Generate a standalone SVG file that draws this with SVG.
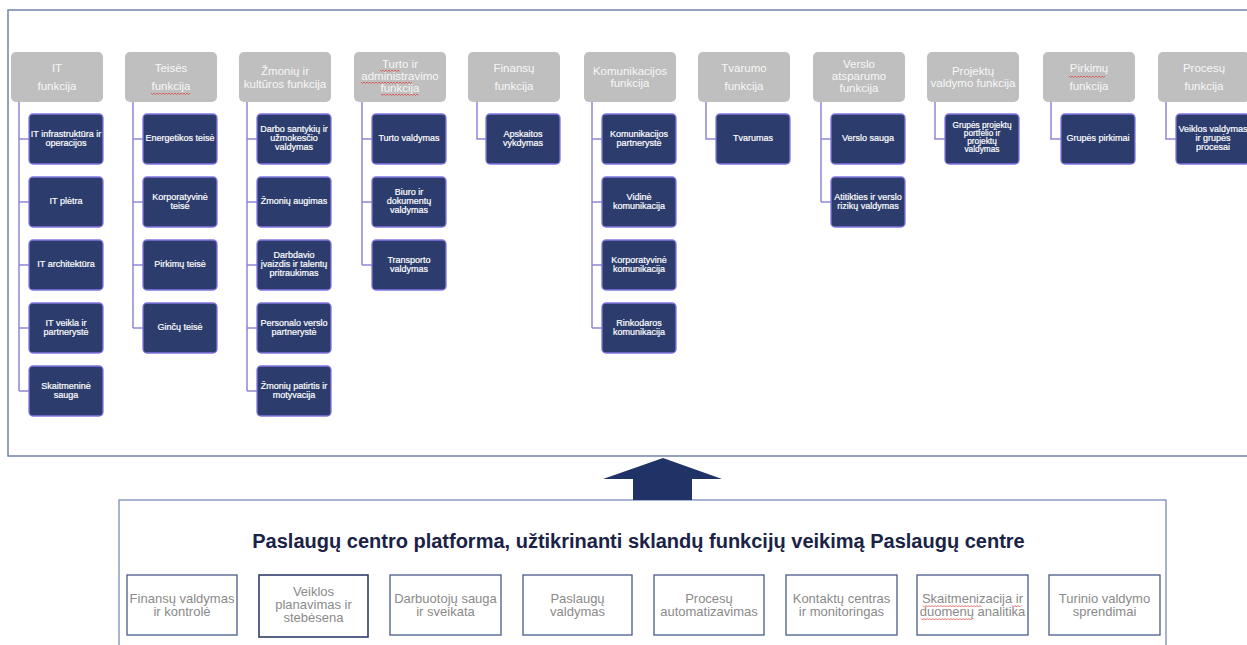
<svg xmlns="http://www.w3.org/2000/svg" width="1247" height="645" viewBox="0 0 1247 645">
<style>
text{font-family:"Liberation Sans",Arial,sans-serif}
.frame{fill:none;stroke:#7182ad;stroke-width:1.5}
.hdr{fill:#bfbfbf}
.ht{font-size:11.5px;fill:#f7f7f7;text-anchor:middle}
.ch{fill:#2c3c6c;stroke:#8277e2;stroke-width:1.3}
.ct{font-size:9px;fill:#ffffff;text-anchor:middle;stroke:#ffffff;stroke-width:0.2}
.conn{stroke:#8f86d6;stroke-width:1.5;fill:none}
.bb{fill:#ffffff;stroke:#4a5a8a;stroke-width:1.3}
.bt{font-size:13px;fill:#8a8a8a;text-anchor:middle}
.sq{fill:none;stroke:#e04848;stroke-width:0.8}
</style>
<rect width="1247" height="645" fill="#ffffff"/>
<rect class="frame" x="8" y="10" width="1244" height="446"/>
<rect class="frame" x="119" y="500" width="1047" height="160" style="stroke:#6f82b0;stroke-width:1.2"/>

<g id="connectors">
<path class="conn" d="M19 102V391M19 139H29M19 202H29M19 265H29M19 328H29M19 391H29"/>
<path class="conn" d="M133 102V328M133 139H143M133 202H143M133 265H143M133 328H143"/>
<path class="conn" d="M247 102V391M247 139H257M247 202H257M247 265H257M247 328H257M247 391H257"/>
<path class="conn" d="M362 102V265M362 139H372M362 202H372M362 265H372"/>
<path class="conn" d="M477 102V139H486"/>
<path class="conn" d="M592 102V328M592 139H602M592 202H602M592 265H602M592 328H602"/>
<path class="conn" d="M706 102V139H716"/>
<path class="conn" d="M821 102V202M821 139H831M821 202H831"/>
<path class="conn" d="M935 102V139H945"/>
<path class="conn" d="M1051 102V139H1061"/>
<path class="conn" d="M1166 102V139H1176"/>
</g>

<g id="col-it">
<rect class="hdr" x="11" y="52" width="92" height="50" rx="5"/>
<text class="ht" x="57" y="72">IT</text><text class="ht" x="57" y="90">funkcija</text>
<rect class="ch" x="29" y="114" width="74" height="50" rx="4"/>
<text class="ct" x="66" y="137">IT infrastruktūra ir</text><text class="ct" x="66" y="146">operacijos</text>
<rect class="ch" x="29" y="177" width="74" height="50" rx="4"/>
<text class="ct" x="66" y="204">IT plėtra</text>
<rect class="ch" x="29" y="240" width="74" height="50" rx="4"/>
<text class="ct" x="66" y="267">IT architektūra</text>
<rect class="ch" x="29" y="303" width="74" height="50" rx="4"/>
<text class="ct" x="66" y="326">IT veikla ir</text><text class="ct" x="66" y="335">partnerystė</text>
<rect class="ch" x="29" y="366" width="74" height="50" rx="4"/>
<text class="ct" x="66" y="389">Skaitmeninė</text><text class="ct" x="66" y="398">sauga</text>
</g>

<g id="col-teises">
<rect class="hdr" x="125" y="52" width="92" height="50" rx="5"/>
<text class="ht" x="171" y="72">Teisės</text><text class="ht" x="171" y="90">funkcija</text>
<path class="sq" d="M151 93l1.5 1.5 1.5-1.5 1.5 1.5 1.5-1.5 1.5 1.5 1.5-1.5 1.5 1.5 1.5-1.5 1.5 1.5 1.5-1.5 1.5 1.5 1.5-1.5 1.5 1.5 1.5-1.5 1.5 1.5 1.5-1.5 1.5 1.5 1.5-1.5 1.5 1.5 1.5-1.5 1.5 1.5 1.5-1.5 1.5 1.5 1.5-1.5 1.5 1.5 1.5-1.5"/>
<rect class="ch" x="143" y="114" width="74" height="50" rx="4"/>
<text class="ct" x="180" y="141">Energetikos teisė</text>
<rect class="ch" x="143" y="177" width="74" height="50" rx="4"/>
<text class="ct" x="180" y="200">Korporatyvinė</text><text class="ct" x="180" y="209">teisė</text>
<rect class="ch" x="143" y="240" width="74" height="50" rx="4"/>
<text class="ct" x="180" y="267">Pirkimų teisė</text>
<rect class="ch" x="143" y="303" width="74" height="50" rx="4"/>
<text class="ct" x="180" y="330">Ginčų teisė</text>
</g>

<g id="col-zmoniu">
<rect class="hdr" x="239" y="52" width="92" height="50" rx="5"/>
<text class="ht" x="285" y="75">Žmonių ir</text><text class="ht" x="285" y="87.5">kultūros funkcija</text>
<rect class="ch" x="257" y="114" width="74" height="50" rx="4"/>
<text class="ct" x="294" y="132">Darbo santykių ir</text><text class="ct" x="294" y="141">užmokesčio</text><text class="ct" x="294" y="150">valdymas</text>
<rect class="ch" x="257" y="177" width="74" height="50" rx="4"/>
<text class="ct" x="294" y="204">Žmonių augimas</text>
<rect class="ch" x="257" y="240" width="74" height="50" rx="4"/>
<text class="ct" x="294" y="258">Darbdavio</text><text class="ct" x="294" y="267">įvaizdis ir talentų</text><text class="ct" x="294" y="276">pritraukimas</text>
<rect class="ch" x="257" y="303" width="74" height="50" rx="4"/>
<text class="ct" x="294" y="326">Personalo verslo</text><text class="ct" x="294" y="335">partnerystė</text>
<rect class="ch" x="257" y="366" width="74" height="50" rx="4"/>
<text class="ct" x="294" y="389">Žmonių patirtis ir</text><text class="ct" x="294" y="398">motyvacija</text>
</g>

<g id="col-turto">
<rect class="hdr" x="354" y="52" width="92" height="50" rx="5"/>
<text class="ht" x="400" y="67.5">Turto ir</text><text class="ht" x="400" y="79.5">administravimo</text><text class="ht" x="400" y="91.5">funkcija</text>
<path class="sq" d="M380 70l1.5 1.5 1.5-1.5 1.5 1.5 1.5-1.5 1.5 1.5 1.5-1.5 1.5 1.5 1.5-1.5 1.5 1.5 1.5-1.5 1.5 1.5 1.5-1.5 1.5 1.5"/>
<path class="sq" d="M361 82l1.5 1.5 1.5-1.5 1.5 1.5 1.5-1.5 1.5 1.5 1.5-1.5 1.5 1.5 1.5-1.5 1.5 1.5 1.5-1.5 1.5 1.5 1.5-1.5 1.5 1.5 1.5-1.5 1.5 1.5 1.5-1.5 1.5 1.5 1.5-1.5 1.5 1.5 1.5-1.5 1.5 1.5 1.5-1.5 1.5 1.5 1.5-1.5 1.5 1.5 1.5-1.5 1.5 1.5 1.5-1.5 1.5 1.5 1.5-1.5 1.5 1.5 1.5-1.5 1.5 1.5 1.5-1.5"/>
<path class="sq" d="M381 94l1.5 1.5 1.5-1.5 1.5 1.5 1.5-1.5 1.5 1.5 1.5-1.5 1.5 1.5 1.5-1.5 1.5 1.5 1.5-1.5 1.5 1.5 1.5-1.5 1.5 1.5 1.5-1.5 1.5 1.5 1.5-1.5 1.5 1.5 1.5-1.5 1.5 1.5 1.5-1.5 1.5 1.5 1.5-1.5 1.5 1.5 1.5-1.5 1.5 1.5"/>
<rect class="ch" x="372" y="114" width="74" height="50" rx="4"/>
<text class="ct" x="409" y="141">Turto valdymas</text>
<rect class="ch" x="372" y="177" width="74" height="50" rx="4"/>
<text class="ct" x="409" y="195">Biuro ir</text><text class="ct" x="409" y="204">dokumentų</text><text class="ct" x="409" y="213">valdymas</text>
<rect class="ch" x="372" y="240" width="74" height="50" rx="4"/>
<text class="ct" x="409" y="263">Transporto</text><text class="ct" x="409" y="272">valdymas</text>
</g>

<g id="col-finansu">
<rect class="hdr" x="468" y="52" width="92" height="50" rx="5"/>
<text class="ht" x="514" y="72">Finansų</text><text class="ht" x="514" y="90">funkcija</text>
<rect class="ch" x="486" y="114" width="74" height="50" rx="4"/>
<text class="ct" x="523" y="137">Apskaitos</text><text class="ct" x="523" y="146">vykdymas</text>
</g>

<g id="col-komunikacijos">
<rect class="hdr" x="584" y="52" width="92" height="50" rx="5"/>
<text class="ht" x="630" y="74.5">Komunikacijos</text><text class="ht" x="630" y="87">funkcija</text>
<rect class="ch" x="602" y="114" width="74" height="50" rx="4"/>
<text class="ct" x="639" y="137">Komunikacijos</text><text class="ct" x="639" y="146">partnerystė</text>
<rect class="ch" x="602" y="177" width="74" height="50" rx="4"/>
<text class="ct" x="639" y="200">Vidinė</text><text class="ct" x="639" y="209">komunikacija</text>
<rect class="ch" x="602" y="240" width="74" height="50" rx="4"/>
<text class="ct" x="639" y="263">Korporatyvinė</text><text class="ct" x="639" y="272">komunikacija</text>
<rect class="ch" x="602" y="303" width="74" height="50" rx="4"/>
<text class="ct" x="639" y="326">Rinkodaros</text><text class="ct" x="639" y="335">komunikacija</text>
</g>

<g id="col-tvarumo">
<rect class="hdr" x="698" y="52" width="92" height="50" rx="5"/>
<text class="ht" x="744" y="72">Tvarumo</text><text class="ht" x="744" y="90">funkcija</text>
<rect class="ch" x="716" y="114" width="74" height="50" rx="4"/>
<text class="ct" x="753" y="141">Tvarumas</text>
</g>

<g id="col-verslo">
<rect class="hdr" x="813" y="52" width="92" height="50" rx="5"/>
<text class="ht" x="859" y="67.5">Verslo</text><text class="ht" x="859" y="79.5">atsparumo</text><text class="ht" x="859" y="91.5">funkcija</text>
<rect class="ch" x="831" y="114" width="74" height="50" rx="4"/>
<text class="ct" x="868" y="141">Verslo sauga</text>
<rect class="ch" x="831" y="177" width="74" height="50" rx="4"/>
<text class="ct" x="868" y="200">Atitikties ir verslo</text><text class="ct" x="868" y="209">rizikų valdymas</text>
</g>

<g id="col-projektu">
<rect class="hdr" x="927" y="52" width="92" height="50" rx="5"/>
<text class="ht" x="973" y="74.5">Projektų</text><text class="ht" x="973" y="87">valdymo funkcija</text>
<rect class="ch" x="945" y="114" width="74" height="50" rx="4"/>
<text class="ct" x="982" y="127.5" style="font-size:8.3px">Grupės projektų</text><text class="ct" x="982" y="135.8" style="font-size:8.3px">portfelio ir</text><text class="ct" x="982" y="144.1" style="font-size:8.3px">projektų</text><text class="ct" x="982" y="152.4" style="font-size:8.3px">valdymas</text>
</g>

<g id="col-pirkimu">
<rect class="hdr" x="1043" y="52" width="92" height="50" rx="5"/>
<text class="ht" x="1089" y="72">Pirkimų</text><text class="ht" x="1089" y="90">funkcija</text>
<path class="sq" d="M1069 76l1.5 1.5 1.5-1.5 1.5 1.5 1.5-1.5 1.5 1.5 1.5-1.5 1.5 1.5 1.5-1.5 1.5 1.5 1.5-1.5 1.5 1.5 1.5-1.5 1.5 1.5 1.5-1.5 1.5 1.5 1.5-1.5 1.5 1.5 1.5-1.5 1.5 1.5 1.5-1.5 1.5 1.5 1.5-1.5 1.5 1.5 1.5-1.5"/>
<rect class="ch" x="1061" y="114" width="74" height="50" rx="4"/>
<text class="ct" x="1098" y="141">Grupės pirkimai</text>
</g>

<g id="col-procesu">
<rect class="hdr" x="1158" y="52" width="92" height="50" rx="5"/>
<text class="ht" x="1204" y="72">Procesų</text><text class="ht" x="1204" y="90">funkcija</text>
<rect class="ch" x="1176" y="114" width="74" height="50" rx="4"/>
<text class="ct" x="1213" y="132">Veiklos valdymas</text><text class="ct" x="1213" y="141">ir grupės</text><text class="ct" x="1213" y="150">procesai</text>
</g>

<g id="arrow">
<path d="M663 458L722 479H692V500H633V479H603Z" fill="#1f3366"/>
</g>

<g id="platform">
<text x="638.5" y="548" text-anchor="middle" font-size="20" font-weight="bold" fill="#1a2346">Paslaugų centro platforma, užtikrinanti sklandų funkcijų veikimą Paslaugų centre</text>
</g>

<g id="svc-finansu">
<rect class="bb" x="127" y="575" width="110" height="60"/>
<text class="bt" x="182" y="603">Finansų valdymas</text><text class="bt" x="182" y="616">ir kontrolė</text>
</g>
<g id="svc-veiklos">
<rect class="bb" x="259" y="575" width="109" height="62" style="stroke:#2f3d6b;stroke-width:1.6"/>
<text class="bt" x="313.5" y="596">Veiklos</text><text class="bt" x="313.5" y="609">planavimas ir</text><text class="bt" x="313.5" y="622">stebėsena</text>
</g>
<g id="svc-darbuotoju">
<rect class="bb" x="390" y="575" width="111" height="60"/>
<text class="bt" x="445.5" y="603">Darbuotojų sauga</text><text class="bt" x="445.5" y="616">ir sveikata</text>
</g>
<g id="svc-paslaugu">
<rect class="bb" x="523" y="575" width="109" height="60"/>
<text class="bt" x="577.5" y="603">Paslaugų</text><text class="bt" x="577.5" y="616">valdymas</text>
</g>
<g id="svc-procesu">
<rect class="bb" x="654" y="575" width="110" height="60"/>
<text class="bt" x="709" y="603">Procesų</text><text class="bt" x="709" y="616">automatizavimas</text>
</g>
<g id="svc-kontaktu">
<rect class="bb" x="786" y="575" width="111" height="60"/>
<text class="bt" x="841.5" y="603">Kontaktų centras</text><text class="bt" x="841.5" y="616">ir monitoringas</text>
</g>
<g id="svc-skaitmenizacija">
<rect class="bb" x="917" y="575" width="111" height="60"/>
<text class="bt" x="972.5" y="603">Skaitmenizacija ir</text><text class="bt" x="972.5" y="616">duomenų analitika</text>
<path class="sq" d="M923 605.5l1.5 1.5 1.5-1.5 1.5 1.5 1.5-1.5 1.5 1.5 1.5-1.5 1.5 1.5 1.5-1.5 1.5 1.5 1.5-1.5 1.5 1.5 1.5-1.5 1.5 1.5 1.5-1.5 1.5 1.5 1.5-1.5 1.5 1.5 1.5-1.5 1.5 1.5 1.5-1.5 1.5 1.5 1.5-1.5 1.5 1.5 1.5-1.5 1.5 1.5 1.5-1.5 1.5 1.5 1.5-1.5 1.5 1.5 1.5-1.5 1.5 1.5 1.5-1.5 1.5 1.5 1.5-1.5 1.5 1.5 1.5-1.5 1.5 1.5 1.5-1.5 1.5 1.5"/>
<path class="sq" d="M1012 605.5l1.5 1.5 1.5-1.5 1.5 1.5 1.5-1.5 1.5 1.5 1.5-1.5"/>
<path class="sq" d="M921 618.5l1.5 1.5 1.5-1.5 1.5 1.5 1.5-1.5 1.5 1.5 1.5-1.5 1.5 1.5 1.5-1.5 1.5 1.5 1.5-1.5 1.5 1.5 1.5-1.5 1.5 1.5 1.5-1.5 1.5 1.5 1.5-1.5 1.5 1.5 1.5-1.5 1.5 1.5 1.5-1.5 1.5 1.5 1.5-1.5 1.5 1.5 1.5-1.5 1.5 1.5 1.5-1.5 1.5 1.5 1.5-1.5 1.5 1.5 1.5-1.5 1.5 1.5 1.5-1.5 1.5 1.5 1.5-1.5"/>
</g>
<g id="svc-turinio">
<rect class="bb" x="1049" y="575" width="111" height="60"/>
<text class="bt" x="1104.5" y="603">Turinio valdymo</text><text class="bt" x="1104.5" y="616">sprendimai</text>
</g>
</svg>
